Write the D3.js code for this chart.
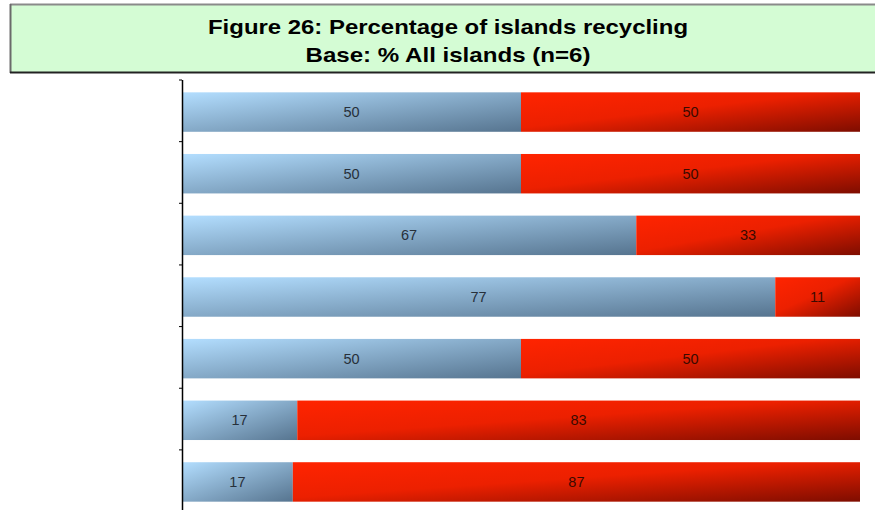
<!DOCTYPE html>
<html>
<head>
<meta charset="utf-8">
<script src="https://cdn.jsdelivr.net/npm/d3@7"></script>
<style>
  html, body { margin: 0; padding: 0; background: #fff; }
  svg { display: block; font-family: "Liberation Sans", Arial, sans-serif; }
</style>
</head>
<body>
<svg id="chart" width="875" height="510"></svg>
<script>
// Islands (rows, top to bottom) and the two response series
const categories = ["A", "B", "C", "D", "E", "F", "G"];
const seriesNames = ["Yes", "No"];
const yesValues = [50, 50, 67, 77, 50, 17, 17];
const noValues  = [50, 50, 33, 11, 50, 83, 87];
const titleLines = ["Figure 26: Percentage of islands recycling", "Base: % All islands (n=6)"];

const rows = categories.map((c, i) => ({ cat: c, Yes: yesValues[i], No: noValues[i] }));

const svg = d3.select("#chart");
const W = 875, H = 510;

// Title panel
const titleG = svg.append("g");
titleG.append("rect").attr("x", 10).attr("y", 4).attr("width", 880).attr("height", 69)
  .attr("fill", "#d4fcd4");
titleG.append("line").attr("x1", 10).attr("x2", 880).attr("y1", 4.5).attr("y2", 4.5)
  .attr("stroke", "#8a8a8a").attr("stroke-width", 2);
titleG.append("line").attr("x1", 10.5).attr("x2", 10.5).attr("y1", 4).attr("y2", 73)
  .attr("stroke", "#6a6a6a").attr("stroke-width", 2);
titleG.append("line").attr("x1", 10).attr("x2", 880).attr("y1", 72.5).attr("y2", 72.5)
  .attr("stroke", "#222").attr("stroke-width", 2);
const titleWidths = [480, 285];
titleG.selectAll("text.title").data(titleLines).enter().append("text")
  .attr("class", "title")
  .attr("x", 448).attr("y", (d, i) => 33.5 + i * 28.5)
  .attr("text-anchor", "middle")
  .attr("font-size", 21).attr("font-weight", "bold").attr("fill", "#000")
  .attr("textLength", (d, i) => titleWidths[i])
  .attr("lengthAdjust", "spacingAndGlyphs")
  .text(d => d);

// Scales
const x = d3.scaleLinear().domain([0, 1]).range([182, 860]);
const y = d3.scaleBand().domain(categories).range([80, 514])
  .paddingInner(0.36).paddingOuter(0.2);

const stack = d3.stack().keys(seriesNames).offset(d3.stackOffsetExpand);
const stacked = stack(rows);

// Diagonal gradients for each series
const defs = svg.append("defs");
const grads = {
  Yes: [["0%", "#b3deff"], ["100%", "#56748f"]],
  No:  [["0%", "#ff2400"], ["45%", "#ec2000"], ["100%", "#7e0d00"]]
};
Object.entries(grads).forEach(([k, stops]) => {
  const g = defs.append("linearGradient").attr("id", "grad-" + k)
    .attr("x1", 0).attr("y1", 0).attr("x2", 1).attr("y2", 1);
  stops.forEach(s => g.append("stop").attr("offset", s[0]).attr("stop-color", s[1]));
});

const layers = svg.append("g").selectAll("g.layer").data(stacked).enter().append("g")
  .attr("class", "layer").attr("fill", d => `url(#grad-${d.key})`);

layers.selectAll("rect").data(d => d.map(v => ({ v, key: d.key }))).enter().append("rect")
  .attr("x", d => x(d.v[0]))
  .attr("y", d => y(d.v.data.cat))
  .attr("width", d => x(d.v[1]) - x(d.v[0]))
  .attr("height", y.bandwidth());

// Value labels centred in each segment
layers.selectAll("text").data(d => d.map(v => ({ v, key: d.key }))).enter().append("text")
  .attr("x", d => (x(d.v[0]) + x(d.v[1])) / 2)
  .attr("y", d => y(d.v.data.cat) + y.bandwidth() / 2 + 5)
  .attr("text-anchor", "middle")
  .attr("font-size", 14.5)
  .attr("fill", d => d.key === "Yes" ? "#27303a" : "#3a0a00")
  .text(d => d.v.data[d.key]);

// Category axis: vertical line with ticks at band boundaries
const axisG = svg.append("g");
axisG.append("line").attr("x1", 182.5).attr("x2", 182.5).attr("y1", 80).attr("y2", H)
  .attr("stroke", "#000").attr("stroke-width", 1.5);
const step = y.step();
const boundaries = d3.range(categories.length + 1).map(i => y.range()[0] + i * step);
axisG.selectAll("line.tick").data(boundaries).enter().append("line")
  .attr("class", "tick")
  .attr("x1", 179).attr("x2", 182).attr("y1", d => d).attr("y2", d => d)
  .attr("stroke", "#000").attr("stroke-width", 1);
</script>
</body>
</html>
